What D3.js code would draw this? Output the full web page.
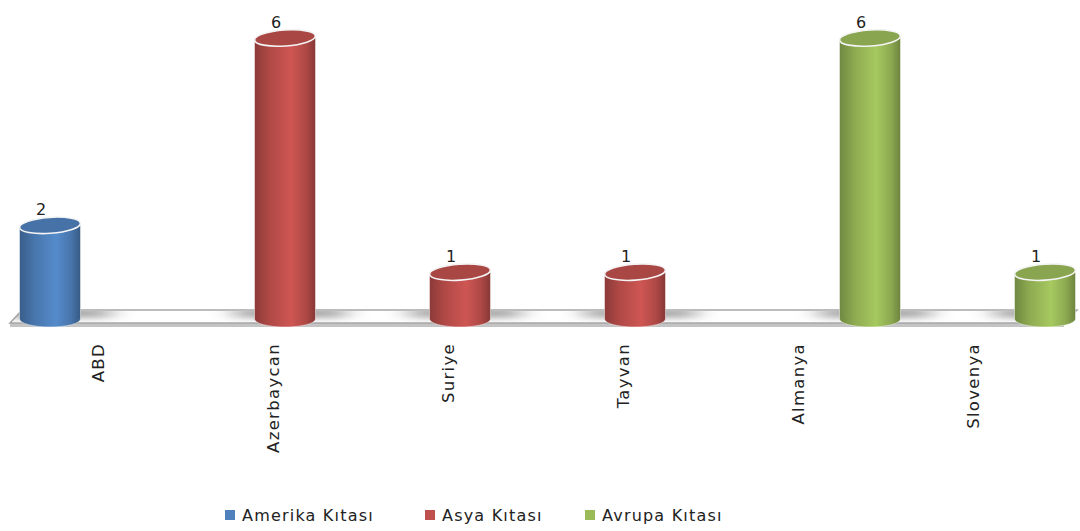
<!DOCTYPE html>
<html>
<head>
<meta charset="utf-8">
<script src="https://cdn.jsdelivr.net/npm/d3@7"></script>
<style>
  body { margin: 0; background: #fff; }
  text { font-family: "DejaVu Sans", sans-serif; }
</style>
</head>
<body>
<div id="chart"></div>
<script>
const categories = ["ABD", "Azerbaycan", "Suriye", "Tayvan", "Almanya", "Slovenya"];
const seriesNames = ["Amerika Kıtası", "Asya Kıtası", "Avrupa Kıtası"];
const amerika = [2, 0, 0, 0, 0, 0];
const asya = [0, 6, 1, 1, 0, 0];
const avrupa = [0, 0, 0, 0, 6, 1];
const colors = ["#4F81BD", "#C0504D", "#9BBB59"];

const width = 1080, height = 531;

const svg = d3.select("#chart").append("svg")
  .attr("width", width)
  .attr("height", height);

const defs = svg.append("defs");

// gradients for the cylinder bodies
colors.forEach(function(c, i) {
  const base = d3.color(c);
  const g = defs.append("linearGradient")
    .attr("id", "cyl" + i)
    .attr("x1", "0%").attr("x2", "100%").attr("y1", "0%").attr("y2", "0%");
  g.append("stop").attr("offset", "0%").attr("stop-color", base.darker(0.9));
  g.append("stop").attr("offset", "25%").attr("stop-color", base.darker(0.25));
  g.append("stop").attr("offset", "60%").attr("stop-color", base.brighter(0.2));
  g.append("stop").attr("offset", "85%").attr("stop-color", base.darker(0.3));
  g.append("stop").attr("offset", "100%").attr("stop-color", base.darker(1.0));
});

defs.append("filter").attr("id", "blur")
  .attr("x", "-50%").attr("y", "-100%").attr("width", "200%").attr("height", "300%")
  .append("feGaussianBlur").attr("stdDeviation", "12 3");

const x0 = d3.scaleBand().domain(categories).range([10, 1060]);
const x1 = d3.scaleBand().domain(seriesNames).range([10, x0.bandwidth() + 15]);
const y = d3.scaleLinear().domain([0, 6]).range([319, 38]);

const rx = 30.5, ry = 8;

const data = [];
categories.forEach(function(cat, i) {
  [amerika, asya, avrupa].forEach(function(arr, s) {
    if (arr[i] > 0) {
      data.push({ cat: cat, s: s, name: seriesNames[s], value: arr[i] });
    }
  });
});

function cx(d) { return x0(d.cat) + x1(d.name) + x1.bandwidth() / 2; }

// floor
const floor = svg.append("g");
floor.append("path")
  .attr("d", "M10,323 L1064,323 L1064,327 L10,327 Z")
  .attr("fill", "#c4c4c4");
floor.append("path")
  .attr("d", "M22,310 L1077,310 L1064,323 L10,323 Z")
  .attr("fill", "#ffffff")
  .attr("stroke", "#a6a6a6")
  .attr("stroke-width", 1.5);

const clip = defs.append("clipPath").attr("id", "floorclip");
clip.append("path").attr("d", "M22,311 L1076,311 L1063,322 L11,322 Z");

// soft shadows on the floor around cylinders
floor.append("g").attr("clip-path", "url(#floorclip)")
  .selectAll("rect")
  .data(data)
  .join("rect")
  .attr("x", function(d) { return cx(d) - rx - 20; })
  .attr("y", 308)
  .attr("width", 2 * rx + 50)
  .attr("height", 10)
  .attr("fill", "#9a9a9a")
  .attr("opacity", 0.85)
  .attr("filter", "url(#blur)");

// cylinders
const cyl = svg.append("g").selectAll("g")
  .data(data)
  .join("g");

cyl.append("path")
  .attr("d", function(d) {
    const c = cx(d), top = y(d.value), base = y(0);
    return "M" + (c - rx) + "," + top +
      " L" + (c - rx) + "," + base +
      " A" + rx + "," + ry + " 0 0 0 " + (c + rx) + "," + base +
      " L" + (c + rx) + "," + top + " Z";
  })
  .attr("fill", function(d) { return "url(#cyl" + d.s + ")"; })
  .attr("stroke", "rgba(255,255,255,0.6)")
  .attr("stroke-width", 0.8);

cyl.append("ellipse")
  .attr("cx", cx)
  .attr("cy", function(d) { return y(d.value); })
  .attr("rx", rx)
  .attr("ry", ry)
  .attr("transform", function(d) { return "rotate(-4," + cx(d) + "," + y(d.value) + ")"; })
  .attr("fill", function(d) { return d3.color(colors[d.s]).darker(0.35); })
  .attr("stroke", "#f4f4f4")
  .attr("stroke-width", 1.6);

// value labels
svg.append("g").selectAll("text")
  .data(data)
  .join("text")
  .attr("x", function(d) { return cx(d) - 9; })
  .attr("y", function(d) { return y(d.value) - ry - 2; })
  .attr("text-anchor", "middle")
  .attr("font-size", 16)
  .attr("fill", "#222")
  .text(function(d) { return d.value; });

// category axis labels
svg.append("g").selectAll("text")
  .data(categories)
  .join("text")
  .attr("transform", function(d) {
    return "translate(" + (x0(d) + x0.bandwidth() / 2 + 6) + ",343) rotate(-90)";
  })
  .attr("text-anchor", "end")
  .attr("font-size", 16.5)
  .attr("letter-spacing", 1.3)
  .attr("fill", "#222")
  .text(function(d) { return d; });

// legend
const legendX = [225, 425, 585];
const legend = svg.append("g").selectAll("g")
  .data(seriesNames)
  .join("g")
  .attr("transform", function(d, i) { return "translate(" + legendX[i] + ",510)"; });
legend.append("rect")
  .attr("width", 10).attr("height", 10)
  .attr("fill", function(d, i) { return colors[i]; });
legend.append("text")
  .attr("x", 17).attr("y", 11)
  .attr("font-size", 16)
  .attr("letter-spacing", 1.2)
  .attr("fill", "#222")
  .text(function(d) { return d; });
</script>
</body>
</html>
